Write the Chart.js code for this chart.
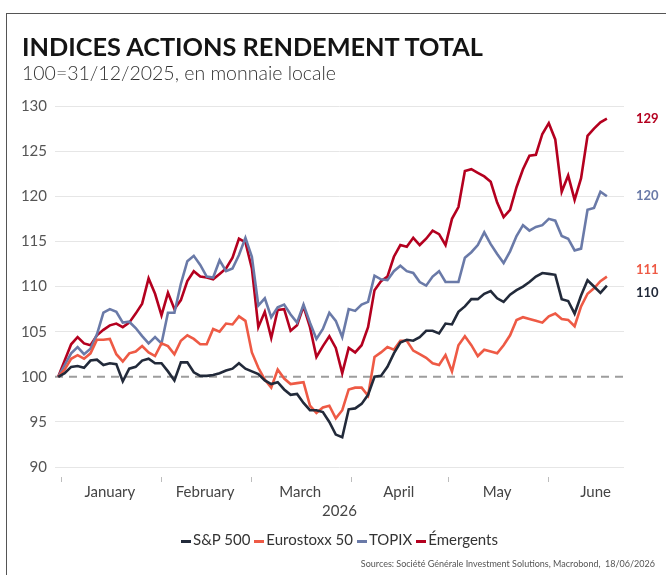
<!DOCTYPE html>
<html>
<head>
<meta charset="utf-8">
<script src="https://cdn.jsdelivr.net/npm/chart.js@4.4.1/dist/chart.umd.min.js"></script>
<style>
  body { margin: 0; background: #fff; font-family: Lato, sans-serif; }
  #wrap { position: relative; width: 666px; height: 575px; overflow: hidden; }
  #frame { position: absolute; left: 6px; top: 13px; width: 700px; height: 600px;
           border-left: 1px solid #555; border-top: 1px solid #555; }
  #chart { position: absolute; left: 0; top: 0; }
  .title { position: absolute; left: 22px; top: 34px; margin: 0; font-size: 25.3px; line-height: 25px;
           font-weight: 700; color: #141414; white-space: nowrap; }
  .subtitle { position: absolute; left: 22px; top: 63px; font-size: 19.5px; line-height: 19px;
              font-weight: 300; color: #333; white-space: nowrap; }
  #legend { position: absolute; left: 55px; width: 569px; top: 530px; text-align: center;
            font-size: 15px; line-height: 18px; color: #333; white-space: nowrap; }
  #legend span.item { margin: 0 2px; }
  #legend i { display: inline-block; width: 10px; height: 3px; vertical-align: middle; margin-right: 2px; }
  .sources { position: absolute; right: 11px; top: 558px; font-size: 9px; line-height: 11px;
             color: #555; white-space: nowrap; }
</style>
</head>
<body>
<div id="wrap">
  <div id="frame"></div>
  <canvas id="chart" width="666" height="575"></canvas>
  <div class="title">INDICES ACTIONS RENDEMENT TOTAL</div>
  <div class="subtitle">100=31/12/2025, en monnaie locale</div>
  <div id="legend"></div>
  <div class="sources">Sources: Société Générale Investment Solutions, Macrobond,&nbsp; 18/06/2026</div>
</div>
<script>
// jours depuis le 31/12/2025 (pas de 2 jours)
const dates = [
  0, 2, 4, 6, 8, 10, 12, 14, 16, 18,
  20, 22, 24, 26, 28, 30, 32, 34, 36, 38,
  40, 42, 44, 46, 48, 50, 52, 54, 56, 58,
  60, 62, 64, 66, 68, 70, 72, 74, 76, 78,
  80, 82, 84, 86, 88, 90, 92, 94, 96, 98,
  100, 102, 104, 106, 108, 110, 112, 114, 116, 118,
  120, 122, 124, 126, 128, 130, 132, 134, 136, 138,
  140, 142, 144, 146, 148, 150, 152, 154, 156, 158,
  160, 162, 164, 166, 168, 170
];

const sp500 = [
  100, 100.4, 101.1, 101.2, 101, 101.8, 101.9, 101.3, 101.5, 101.4,
  99.5, 100.9, 101.1, 101.8, 102, 101.5, 101.5, 100.6, 99.6, 101.6,
  101.6, 100.5, 100.1, 100.1, 100.2, 100.4, 100.7, 100.9, 101.5, 100.9,
  100.6, 100.3, 99.6, 99.2, 99.4, 98.6, 98, 98.1, 97.1, 96.3,
  96.3, 96.1, 95, 93.6, 93.3, 96.4, 96.5, 97, 98, 100,
  100.1, 101.1, 102.6, 103.8, 104.1, 104, 104.4, 105.1, 105.1, 104.8,
  105.9, 105.8, 107.2, 107.8, 108.6, 108.6, 109.2, 109.5, 108.7, 108.3,
  109.1, 109.6, 110, 110.5, 111.1, 111.5, 111.4, 111.3, 108.6, 108.4,
  107, 109, 110.7, 110, 109.3, 110.1
];

const eurostoxx = [
  100, 100.8, 102, 102.4, 102, 102.6, 104.1, 104.1, 104.2, 102.5,
  101.7, 102.6, 102.8, 103.4, 102.7, 102.3, 103.7, 103.4, 102.5, 104,
  104.6, 104.2, 103.6, 103.6, 105.3, 105, 105.9, 105.8, 106.7, 106.2,
  102.7, 101, 99.7, 98.8, 100.8, 99.8, 99.2, 99.3, 99.4, 96.8,
  96, 96.6, 96.8, 95.4, 96.3, 98.6, 98.8, 98.8, 97.9, 102.2,
  102.7, 103.3, 103, 104, 104, 102.9, 102.5, 102.1, 101.5, 101.3,
  102.4, 100.6, 103.5, 104.5, 103.5, 102.3, 103, 102.8, 102.6, 103.5,
  104.6, 106.3, 106.6, 106.4, 106.2, 106, 106.7, 107, 106.4, 106.3,
  105.6, 107.8, 109.2, 109.8, 110.6, 111.1
];

const topix = [
  100, 101.3, 102.6, 103.3, 102.5, 103.1, 104.7, 107.1, 107.5, 107.2,
  106, 106.1, 105.4, 104.5, 103.7, 104.4, 103.7, 107.1, 107.1, 110.3,
  112.8, 113.4, 112.4, 111.1, 111, 112.9, 111.7, 112, 113.5, 115.4,
  113.3, 107.9, 108.7, 106.6, 107.7, 108, 106.9, 106, 108, 106,
  104.2, 105.3, 107.1, 106.2, 104.4, 107.5, 107.3, 108, 108.3, 111.2,
  110.8, 110.7, 111.7, 112.3, 111.7, 111.5, 110.5, 110.1, 111.1, 111.7,
  110.5, 110.5, 110.5, 113.2, 113.8, 114.6, 116, 114.7, 113.6, 112.6,
  113.9, 115.6, 116.8, 116.2, 116.6, 116.8, 117.5, 117.3, 115.6, 115.3,
  114, 114.2, 118.5, 118.7, 120.5, 120
];

const emergents = [
  100, 101.8, 103.6, 104.4, 103.7, 103.5, 104.6, 105.2, 105.7, 105.9,
  105.5, 106, 107, 108.1, 110.9, 109.2, 106.8, 109.3, 107.5, 108.5,
  110.6, 111.7, 111.1, 111, 110.8, 111.4, 112, 113.2, 115.3, 114.9,
  112, 105.5, 107.2, 104.3, 107.4, 107.5, 105.1, 105.7, 107.8, 105.5,
  102.2, 103.4, 104.5, 103.2, 100.4, 103.2, 102.7, 103.5, 105.5, 109.6,
  110.6, 111.1, 113.3, 114.6, 114.4, 115.4, 114.6, 115.3, 116.2, 115.8,
  114.6, 117.5, 118.8, 122.8, 123, 122.6, 122.2, 121.6, 119.3, 117.7,
  118.5, 121, 123, 124.5, 124.6, 126.9, 128.1, 126.3, 120.5, 122.3,
  119.6, 122, 126.7, 127.5, 128.2, 128.6
];

const seriesNames = ['S&P 500', 'Eurostoxx 50', 'TOPIX', 'Émergents'];
const seriesColors = ['#222a3a', '#ee5a45', '#6a7aa8', '#b4001f'];

// axe des x : débuts de mois (repères) et milieux de mois (libellés)
const monthNames = ['January', 'February', 'March', 'April', 'May', 'June'];
const monthStarts = [1, 32, 60, 91, 121, 152];
const monthMids = [16, 45.5, 75, 105.5, 136, 166.5];
const yTicks = [90, 95, 100, 105, 110, 115, 120, 125, 130];
const baseValue = 100;

const allSeries = [sp500, eurostoxx, topix, emergents];

// légende HTML
const legend = document.getElementById('legend');
seriesNames.forEach((name, i) => {
  const s = document.createElement('span');
  s.className = 'item';
  s.innerHTML = '<i style="background:' + seriesColors[i] + '"></i>' + name;
  legend.appendChild(s);
});

// ligne pointillée à 100
const baseLine = {
  id: 'baseLine',
  beforeDatasetsDraw(chart) {
    const { ctx, chartArea, scales } = chart;
    const py = scales.y.getPixelForValue(baseValue);
    ctx.save();
    ctx.strokeStyle = '#9d9d9d';
    ctx.lineWidth = 2;
    ctx.setLineDash([8, 6]);
    ctx.beginPath();
    ctx.moveTo(chartArea.left, py);
    ctx.lineTo(chartArea.right, py);
    ctx.stroke();
    ctx.restore();
  }
};

// valeurs finales à droite
const endLabels = {
  id: 'endLabels',
  afterDatasetsDraw(chart) {
    const { ctx, chartArea, scales } = chart;
    const items = chart.data.datasets.map(ds => {
      const v = ds.data[ds.data.length - 1].y;
      return { text: String(Math.round(v)), y: scales.y.getPixelForValue(v), color: ds.borderColor };
    });
    items.sort((a, b) => a.y - b.y);
    for (let k = 1; k < items.length; k++) {
      const gap = items[k].y - items[k - 1].y;
      if (gap < 23) {
        const shift = (23 - gap) / 2;
        items[k - 1].y -= shift;
        items[k].y += shift;
      }
    }
    ctx.save();
    ctx.font = 'bold 13px Lato';
    ctx.textAlign = 'left';
    ctx.textBaseline = 'middle';
    items.forEach(it => {
      ctx.fillStyle = it.color;
      ctx.fillText(it.text, chartArea.right + 12, it.y);
    });
    ctx.restore();
  }
};

const ctx = document.getElementById('chart').getContext('2d');
new Chart(ctx, {
  type: 'line',
  data: {
    datasets: allSeries.map((vals, i) => ({
      label: seriesNames[i],
      data: dates.map((d, k) => ({ x: d, y: vals[k] })),
      borderColor: seriesColors[i],
      backgroundColor: seriesColors[i],
      borderWidth: 2.6,
      pointRadius: 0,
      tension: 0
    }))
  },
  options: {
    responsive: false,
    animation: false,
    layout: { padding: { top: 106, right: 42, bottom: 55, left: 0 } },
    plugins: {
      legend: { display: false },
      tooltip: { enabled: false }
    },
    scales: {
      x: {
        type: 'linear',
        min: -1,
        max: 175.3,
        afterBuildTicks: axis => {
          axis.ticks = monthStarts.concat(monthMids).sort((a, b) => a - b).map(v => ({ value: v }));
        },
        grid: {
          display: true,
          drawOnChartArea: false,
          drawTicks: true,
          tickLength: 5,
          color: c => monthStarts.includes(c.tick && c.tick.value) ? '#bdbdbd' : 'rgba(0,0,0,0)'
        },
        border: { display: false },
        ticks: {
          autoSkip: false,
          maxRotation: 0,
          padding: 1,
          color: '#444',
          font: { family: 'Lato', size: 15 },
          callback: v => {
            const i = monthMids.indexOf(v);
            return i >= 0 ? monthNames[i] : '';
          }
        },
        title: {
          display: true,
          text: '2026',
          color: '#444',
          font: { family: 'Lato', size: 15 },
          padding: { top: 0, bottom: 0 }
        }
      },
      y: {
        min: 88.9,
        max: 130,
        afterBuildTicks: axis => { axis.ticks = yTicks.map(v => ({ value: v })); },
        afterFit: axis => { axis.width = 55; },
        grid: {
          drawTicks: false,
          color: c => (c.tick && c.tick.value === baseValue) ? 'rgba(0,0,0,0)' : '#e6e6e6'
        },
        border: { display: false },
        ticks: {
          padding: 8,
          color: '#555',
          font: { family: 'Lato', size: 15 }
        }
      }
    }
  },
  plugins: [baseLine, endLabels]
});
</script>
</body>
</html>
